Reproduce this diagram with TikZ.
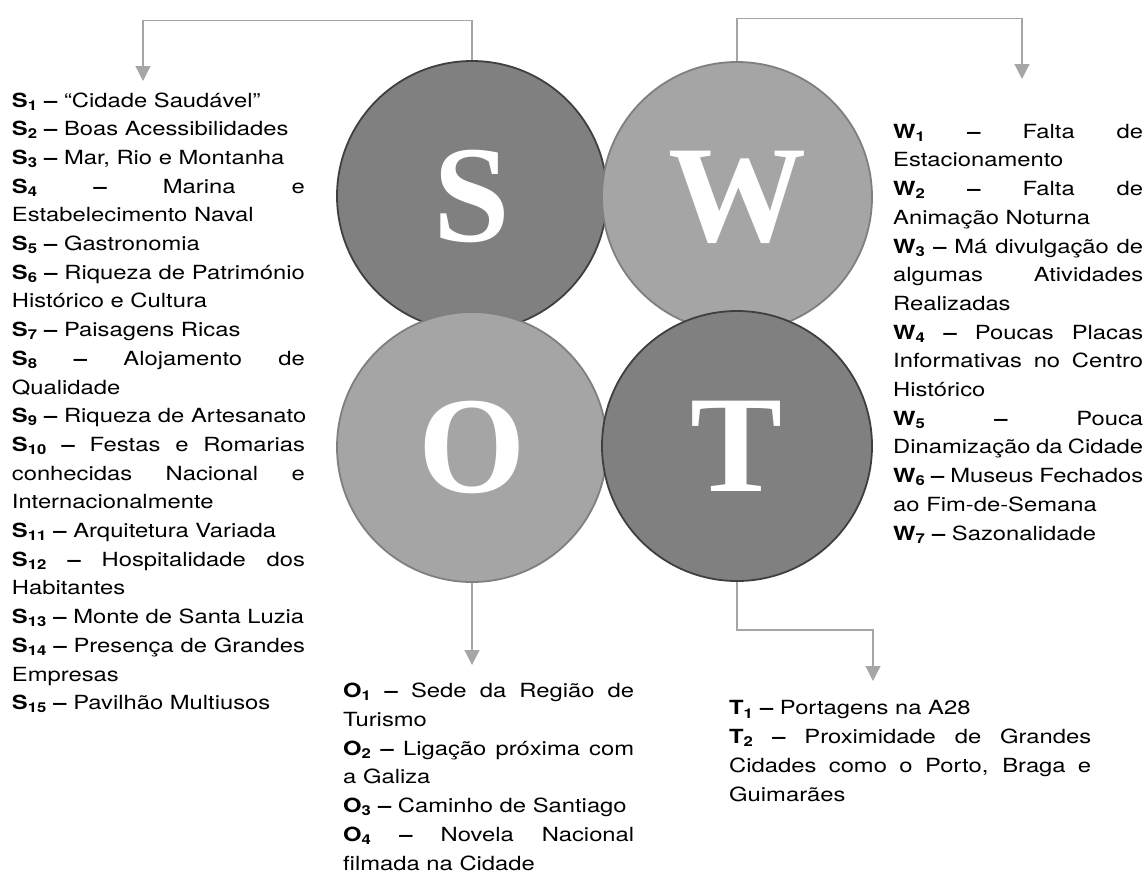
\documentclass[tikz,border=0pt]{standalone}
\usepackage{fontspec}
\setmainfont{TeX Gyre Heros}[FakeStretch=1.22]
\newfontfamily\swotfont{Liberation Serif}
\usetikzlibrary{arrows.meta}

\definecolor{darkFill}{HTML}{808080}
\definecolor{darkLine}{HTML}{3F3F3F}
\definecolor{lightFill}{HTML}{A5A5A5}
\definecolor{lightLine}{HTML}{7F7F7F}
\definecolor{connGray}{HTML}{A6A6A6}

\newlength\colw
\newcommand\itm[2]{\textbf{#1\textsubscript{#2} –}}
\newcommand\jl[1]{\makebox[\colw][s]{#1}}

\begin{document}
\begin{tikzpicture}[x=1pt,y=-1pt,
	quad/.style={circle, minimum size=270pt, inner sep=0pt, line width=1.8pt, text=white,
		font=\swotfont\bfseries\fontsize{138}{138}\selectfont},
	dark/.style={quad, draw=darkLine, fill=darkFill},
	light/.style={quad, draw=lightLine, fill=lightFill},
	conn/.style={connGray, line width=1.2pt, -{Triangle[width=15pt,length=15pt]}},
	list/.style={anchor=base west, inner sep=0pt, align=left,
		font=\fontsize{19.5}{28.7}\selectfont,
		execute at begin node={\setlength{\colw}{#1}}}]
	\useasboundingbox (0,0) rectangle (1148,873);

	% Circles
	\node[dark]  (S) at (472,196) {S};
	\node[light] (W) at (737,197) {W};
	\node[light] (O) at (472,447) {O};
	\node[dark]  (T) at (737,446) {T};

	% Lists (placed at the baseline of their last line)
	\node[list=293pt] (sList) at (11.7,709.7) {%
		\itm{S}{1} “Cidade Saudável”\\
		\itm{S}{2} Boas Acessibilidades\\
		\itm{S}{3} Mar, Rio e Montanha\\
		\jl{\itm{S}{4} Marina e}\\
		Estabelecimento Naval\\
		\itm{S}{5} Gastronomia\\
		\jl{\itm{S}{6} Riqueza de Património}\\
		Histórico e Cultura\\
		\itm{S}{7} Paisagens Ricas\\
		\jl{\itm{S}{8} Alojamento de}\\
		Qualidade\\
		\itm{S}{9} Riqueza de Artesanato\\
		\jl{\itm{S}{10} Festas e Romarias}\\
		\jl{conhecidas Nacional e}\\
		Internacionalmente\\
		\itm{S}{11} Arquitetura Variada\\
		\jl{\itm{S}{12} Hospitalidade dos}\\
		Habitantes\\
		\itm{S}{13} Monte de Santa Luzia\\
		\jl{\itm{S}{14} Presença de Grandes}\\
		Empresas\\
		\itm{S}{15} Pavilhão Multiusos};
	\node[list=250pt] (wList) at (893,540) {%
		\jl{\itm{W}{1} Falta de}\\
		Estacionamento\\
		\jl{\itm{W}{2} Falta de}\\
		Animação Noturna\\
		\jl{\itm{W}{3} Má divulgação de}\\
		\jl{algumas Atividades}\\
		Realizadas\\
		\jl{\itm{W}{4} Poucas Placas}\\
		\jl{Informativas no Centro}\\
		Histórico\\
		\jl{\itm{W}{5} Pouca}\\
		\jl{Dinamização da Cidade}\\
		\jl{\itm{W}{6} Museus Fechados}\\
		ao Fim-de-Semana\\
		\itm{W}{7} Sazonalidade};
	\node[list=291pt] (oList) at (343,870) {%
		\jl{\itm{O}{1} Sede da Região de}\\
		Turismo\\
		\jl{\itm{O}{2} Ligação próxima com}\\
		a Galiza\\
		\itm{O}{3} Caminho de Santiago\\
		\jl{\itm{O}{4} Novela Nacional}\\
		filmada na Cidade};
	\node[list=362pt] (tList) at (729,801) {%
		\itm{T}{1} Portagens na A28\\
		\jl{\itm{T}{2} Proximidade de Grandes}\\
		\jl{Cidades como o Porto, Braga e}\\
		Guimarães};

	% Connectors
	\coordinate (sTip) at (143,81);
	\coordinate (wTip) at (1022,79);
	\coordinate (oTip) at (472,665);
	\coordinate (tTip) at (873,681);
	\draw[conn] (S.north) -- ++(0,-40) -| (sTip);
	\draw[conn] (W.north) -- ++(0,-43) -| (wTip);
	\draw[conn] (O.south) -- (oTip);
	\draw[conn] (T.south) -- ++(0,48) -| (tTip);

\end{tikzpicture}
\end{document}
